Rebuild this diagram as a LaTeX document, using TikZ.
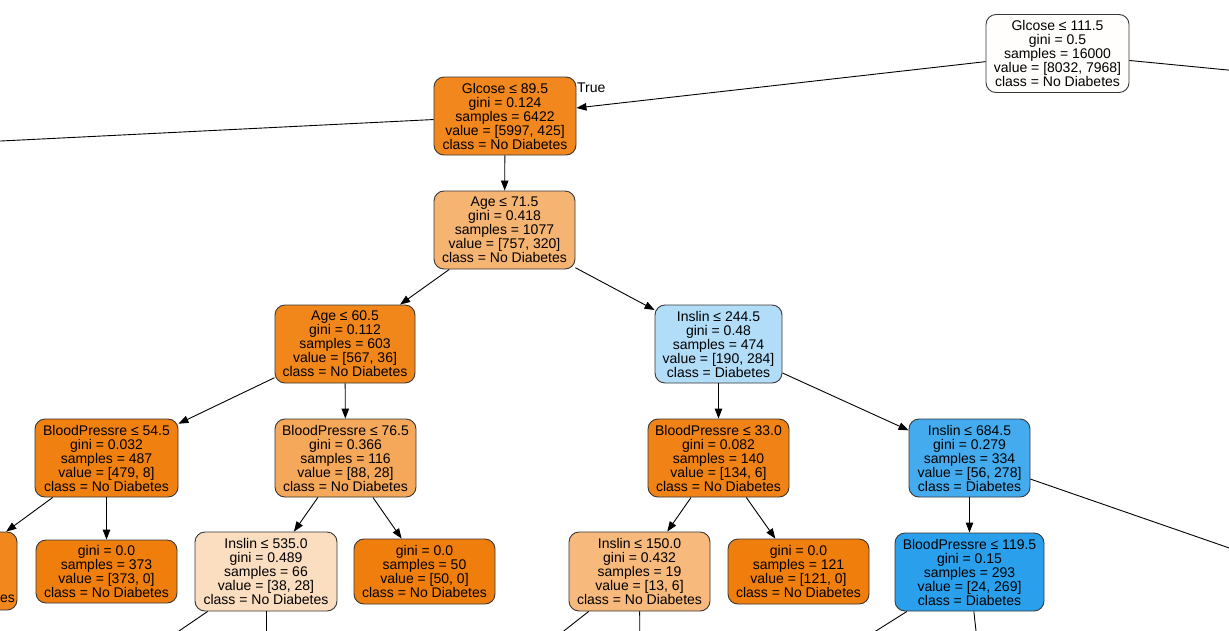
\documentclass[tikz,border=0pt]{standalone}
\usepackage{fontspec}
\setmainfont{Liberation Sans}
\usetikzlibrary{arrows.meta}
\definecolor{orB}{RGB}{240,126,12}
\definecolor{blB}{RGB}{21,151,234}
\definecolor{boxline}{RGB}{55,55,55}
\begin{document}
\begin{tikzpicture}[x=1pt,y=-1pt,
  tnode/.style={draw=boxline, line width=0.9pt, rounded corners=10pt, align=center,
    inner sep=0pt, font=\fontsize{14pt}{14pt}\selectfont, text=black},
  split/.style={tnode, minimum height=78pt},
  leaf/.style={tnode, minimum height=64pt},
  tedge/.style={draw=black, line width=0.9pt, -{Triangle[length=10pt,width=7.5pt]}},
  elabel/.style={font=\fontsize{14pt}{14pt}\selectfont, inner sep=0pt, anchor=west}
]
\useasboundingbox (0,0) rectangle (1229,630);
\fill[white] (0,0) rectangle (1229,630);
\clip (0,0) rectangle (1229,630);

% nodes
\node[split, fill=orB!1!white, minimum width=143pt] (root) at (1057.5,53.5)
  {Glcose ≤ 111.5\\gini = 0.5\\samples = 16000\\value = [8032, 7968]\\class = No Diabetes};
\node[split, fill=orB!93!white, minimum width=142pt] (n2) at (505,116)
  {Glcose ≤ 89.5\\gini = 0.124\\samples = 6422\\value = [5997, 425]\\class = No Diabetes};
\node[split, fill=orB!58!white, minimum width=141pt] (age715) at (504.5,230)
  {Age ≤ 71.5\\gini = 0.418\\samples = 1077\\value = [757, 320]\\class = No Diabetes};
\node[split, fill=orB!94!white, minimum width=140pt] (age605) at (345,344)
  {Age ≤ 60.5\\gini = 0.112\\samples = 603\\value = [567, 36]\\class = No Diabetes};
\node[split, fill=blB!33!white, minimum width=127pt] (ins2445) at (718.5,344)
  {Inslin ≤ 244.5\\gini = 0.48\\samples = 474\\value = [190, 284]\\class = Diabetes};
\node[split, fill=orB!98!white, minimum width=143pt] (bp545) at (106.5,458)
  {BloodPressre ≤ 54.5\\gini = 0.032\\samples = 487\\value = [479, 8]\\class = No Diabetes};
\node[split, fill=orB!68!white, minimum width=141pt] (bp765) at (345.5,458)
  {BloodPressre ≤ 76.5\\gini = 0.366\\samples = 116\\value = [88, 28]\\class = No Diabetes};
\node[split, fill=orB!96!white, minimum width=141pt] (bp330) at (718.5,458)
  {BloodPressre ≤ 33.0\\gini = 0.082\\samples = 140\\value = [134, 6]\\class = No Diabetes};
\node[split, fill=blB!80!white, minimum width=121pt] (ins6845) at (969.5,458)
  {Inslin ≤ 684.5\\gini = 0.279\\samples = 334\\value = [56, 278]\\class = Diabetes};
\node[split, fill=orB!93!white, minimum width=129pt] (leafL) at (-47.5,571)
  {\phantom{g}\\\phantom{g}\\\phantom{g}\\\phantom{g}\\class = No Diabetes};
\node[leaf, fill=orB, minimum width=141pt, minimum height=63pt] (leaf373) at (106.5,571.5)
  {gini = 0.0\\samples = 373\\value = [373, 0]\\class = No Diabetes};
\node[split, fill=orB!26!white, minimum width=142pt, minimum height=79pt] (ins535) at (266,571.5)
  {Inslin ≤ 535.0\\gini = 0.489\\samples = 66\\value = [38, 28]\\class = No Diabetes};
\node[leaf, fill=orB, minimum width=141pt, minimum height=65pt] (leaf50) at (424.5,571.5)
  {gini = 0.0\\samples = 50\\value = [50, 0]\\class = No Diabetes};
\node[split, fill=orB!54!white, minimum width=141pt, minimum height=79pt] (ins150) at (639.5,571.5)
  {Inslin ≤ 150.0\\gini = 0.432\\samples = 19\\value = [13, 6]\\class = No Diabetes};
\node[leaf, fill=orB, minimum width=141pt, minimum height=65pt] (leaf121) at (798.5,571.5)
  {gini = 0.0\\samples = 121\\value = [121, 0]\\class = No Diabetes};
\node[split, fill=blB!91!white, minimum width=149pt] (bp1195) at (969.5,572)
  {BloodPressre ≤ 119.5\\gini = 0.15\\samples = 293\\value = [24, 269]\\class = Diabetes};

% off-frame child positions
\coordinate (offRoot) at (1300,77);
\coordinate (offN2) at (-100,146);
\coordinate (offIns6845) at (1300,572.5);
\coordinate (offIns535a) at (100,685);
\coordinate (offIns535b) at (266,685);
\coordinate (offIns150a) at (495,685);
\coordinate (offIns150b) at (640,685);
\coordinate (offBp1195a) at (790,685);
\coordinate (offBp1195b) at (982,685);

% edges
\draw[tedge] (root) -- (n2);
\draw[tedge] (root) -- (offRoot);
\draw[tedge] (n2) -- (offN2);
\draw[tedge] (n2) -- (age715);
\draw[tedge] (age715) -- (age605);
\draw[tedge] (age715) -- (ins2445);
\draw[tedge] (age605) -- (bp545);
\draw[tedge] (age605) -- (bp765);
\draw[tedge] (ins2445) -- (bp330);
\draw[tedge] (ins2445) -- (ins6845);
\draw[tedge] (bp545) -- (leafL);
\draw[tedge] (bp545) -- (leaf373);
\draw[tedge] (bp765) -- (ins535);
\draw[tedge] (bp765) -- (leaf50);
\draw[tedge] (bp330) -- (ins150);
\draw[tedge] (bp330) -- (leaf121);
\draw[tedge] (ins6845) -- (bp1195);
\draw[tedge] (ins6845) -- (offIns6845);
\draw[tedge] (ins535) -- (offIns535a);
\draw[tedge] (ins535) -- (offIns535b);
\draw[tedge] (ins150) -- (offIns150a);
\draw[tedge] (ins150) -- (offIns150b);
\draw[tedge] (bp1195) -- (offBp1195a);
\draw[tedge] (bp1195) -- (offBp1195b);

\node[elabel] (truelbl) at (577,88) {True};
\end{tikzpicture}
\end{document}
